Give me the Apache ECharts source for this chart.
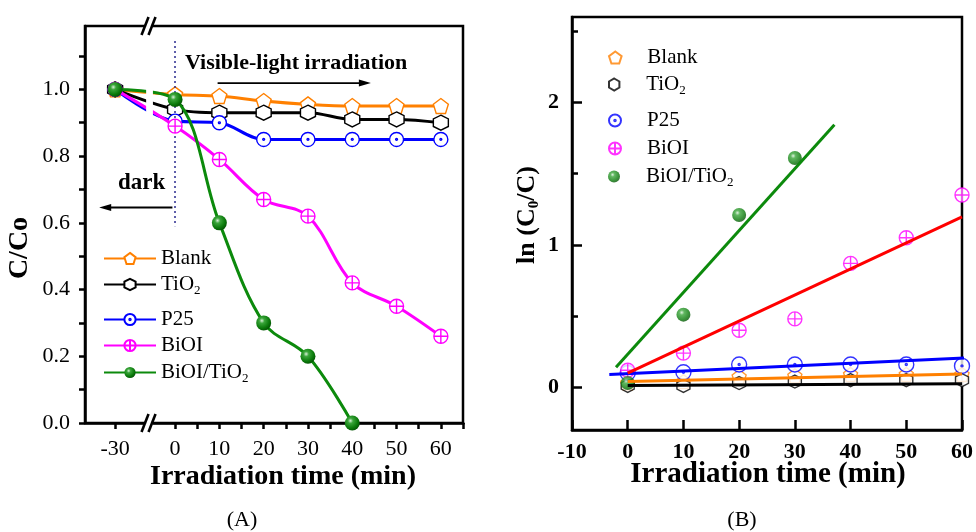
<!DOCTYPE html>
<html><head><meta charset="utf-8">
<script src="https://cdn.jsdelivr.net/npm/echarts@6/dist/echarts.min.js"></script>
<style>html,body{margin:0;padding:0;background:#fff}#c{width:976px;height:532px}</style>
</head><body><div id="c"></div>
<script>
// ---------- Panel A data ----------
const timeA = [-30, 0, 10, 20, 30, 40, 50, 60];
const blankA = [1.0, 0.985, 0.98, 0.965, 0.955, 0.95, 0.95, 0.95];
const tio2A  = [1.0, 0.94, 0.93, 0.93, 0.93, 0.91, 0.91, 0.90];
const p25A   = [1.0, 0.905, 0.90, 0.85, 0.85, 0.85, 0.85, 0.85];
const bioiA  = [1.0, 0.89, 0.79, 0.67, 0.62, 0.42, 0.35, 0.26];
const compA  = [1.0, 0.97, 0.60, 0.30, 0.20, 0.0];
const xTicksA = [-30, 0, 10, 20, 30, 40, 50, 60];
const yTicksA = [0, 0.2, 0.4, 0.6, 0.8, 1.0];
// annotation arrows [x0, x1, y] in data units
const arrowLight = [9.6, 44.2, 1.019];
const arrowDark = [-0.6, -33.6, 0.646];
// ---------- Panel B data ----------
const timeB = [0, 10, 20, 30, 40, 50, 60];
const blankB = [0.03, 0.04, 0.075, 0.08, 0.09, 0.09, 0.09];
const tio2B  = [0.01, 0.01, 0.03, 0.04, 0.05, 0.05, 0.05];
const p25B   = [0.10, 0.105, 0.16, 0.16, 0.16, 0.16, 0.15];
const bioiB  = [0.12, 0.24, 0.40, 0.48, 0.87, 1.05, 1.35];
const compB  = [0.03, 0.51, 1.21, 1.61];
const fitBlank = [[0, 0.04], [60, 0.094]];
const fitTio2  = [[0, 0.012], [60, 0.024]];
const fitP25   = [[-3.3, 0.089], [60.5, 0.205]];
const fitBioi  = [[0, 0.10], [60, 1.197]];
const fitComp  = [[-2.1, 0.14], [37.1, 1.843]];
const yTicksB = [0, 1, 2];

const names = ['Blank', 'TiO2', 'P25', 'BiOI', 'BiOI/TiO2'];
const colors = ['#ff8000', '#000000', '#0000ff', '#ff00ff', '#0c8a0c'];
const SERIF = '"Liberation Serif","Times New Roman",serif';

const pent = 'path://M0,-10 L9.51,-3.09 L5.88,8.09 L-5.88,8.09 L-9.51,-3.09 Z';
const hexa = 'path://M0,-10 L8.66,-5 L8.66,5 L0,10 L-8.66,5 L-8.66,-5 Z';
const cdot = 'path://M10,0 A10,10 0 1,1 -10,0 A10,10 0 1,1 10,0 Z M1.3,0 A1.3,1.3 0 1,1 -1.3,0 A1.3,1.3 0 1,1 1.3,0 Z';
const cplus = 'path://M10,0 A10,10 0 1,1 -10,0 A10,10 0 1,1 10,0 Z M0,-10 L0,10 M-10,0 L10,0';
const sphere = {type:'radial', x:0.38, y:0.35, r:0.7, colorStops:[
  {offset:0, color:'#d8f0d8'}, {offset:0.25, color:'#3aa53a'}, {offset:0.7, color:'#0b7a0b'}, {offset:1, color:'#045004'}]};
const symbols = [pent, hexa, cdot, cplus, 'circle'];

function zip(xs, ys){ return ys.map((y,i)=>[xs[i], y]); }
const dataA = [blankA, tio2A, p25A, bioiA, compA];
const dataB = [blankB, tio2B, p25B, bioiB, compB];
const fitsB = [fitBlank, fitTio2, fitP25, fitBioi, fitComp];
const fitColors = ['#ff8000', '#000000', '#0000ff', '#ff0000', '#0c8a0c'];

function markerStyle(i){
  if (i === 4) return {color: sphere, borderWidth: 0};
  return {color:'#fff', borderColor: colors[i], borderWidth: 1.4};
}

const series = [];
names.forEach((n,i)=>{
  const s = {
    name: n, type:'line', xAxisIndex:0, yAxisIndex:0,
    data: zip(timeA, dataA[i]), smooth: 0.35,
    symbol: symbols[i], symbolSize: i===4 ? 15 : (i<2 ? 15 : 14),
    lineStyle:{color: colors[i], width: 3},
    itemStyle: markerStyle(i), z: 2 + i
  };
  if (i === 0) {
    s.markLine = {
      silent: true, label:{show:false}, symbol:'none',
      lineStyle:{color:'#2b2b8f', type:[2,3], width:1.5},
      data: [[{coord:[0, 1.145]}, {coord:[0, 0.59]}]]
    };
  }
  series.push(s);
});
names.forEach((n,i)=>{
  series.push({
    name: 'B:' + n, type:'scatter', xAxisIndex:1, yAxisIndex:1,
    data: zip(timeB, dataB[i]),
    symbol: symbols[i], symbolSize: i===2 ? 15 : (i===1 ? 13 : 14),
    itemStyle: markerStyle(i), z: 3 + i
  });
});
names.forEach((n,i)=>{
  series.push({
    name: 'fit:' + n, type:'line', xAxisIndex:1, yAxisIndex:1,
    data: fitsB[i], symbol:'none', lineStyle:{color: fitColors[i], width: 3}, z: 10
  });
});

const richSub = {sub:{fontFamily: SERIF, fontSize: 13, padding:[12,0,0,0], color:'#000'}};
const legFmt = n => n.replace(/^B:/, '').replace('TiO2', 'TiO{sub|2}');
const legTopA = [248, 274, 309, 335, 362];
const legTopB = [47, 74, 110, 138, 166];
const legends = [];
names.forEach((n,i)=>{
  legends.push({left: 103, top: legTopA[i], padding: 0, itemWidth: 52, itemHeight: 14, selectedMode:false, z: 300,
    data:[n], formatter: legFmt,
    textStyle:{fontFamily: SERIF, fontSize: 21, color:'#000', rich: richSub}});
  legends.push({left: 608, top: legTopB[i], padding: 0, itemWidth: 48, itemHeight: 12, selectedMode:false, z: 300,
    data:['B:' + n], formatter: legFmt,
    textStyle:{fontFamily: SERIF, fontSize: 21, color:'#000', padding:[0,0,0,3], rich: richSub}});
});

const axLine = {onZero:false, lineStyle:{color:'#000', width:2.5}};
const option = {
  animation: false,
  backgroundColor: '#fff',
  legend: legends,
  grid: [
    {left: 85, top: 26, width: 378, height: 397, show: true, borderColor:'#000', borderWidth: 2.5, containLabel:false},
    {left: 572, top: 17, width: 391, height: 413, show: true, borderColor:'#000', borderWidth: 2.5, containLabel:false}
  ],
  xAxis: [
    {gridIndex:0, type:'value', min:-36.8, max:65, position:'bottom',
     breaks:[{start:-23, end:-5, gap:'1.8%'}],
     breakArea:{show:false},
     axisLine: axLine,
     axisTick:{length:6, lineStyle:{color:'#000', width:2.5},
       customValues:[-30,0,5,10,15,20,25,30,35,40,45,50,55,60,65]},
     axisLabel:{customValues: xTicksA, fontFamily: SERIF, fontSize: 22, color:'#000', margin: 15},
     splitLine:{show:false}},
    {gridIndex:1, type:'value', min:-10, max:60, interval:10, position:'bottom',
     axisLine: axLine,
     axisTick:{inside:true, length:10, lineStyle:{color:'#000', width:2.5}},
     axisLabel:{fontFamily: SERIF, fontSize: 22, fontWeight:'bold', color:'#000', margin: 11},
     splitLine:{show:false}}
  ],
  yAxis: [
    {gridIndex:0, type:'value', min:0, max:1.19, position:'left',
     axisLine: axLine,
     axisTick:{length:6, lineStyle:{color:'#000', width:2.5},
       customValues:[0,0.1,0.2,0.3,0.4,0.5,0.6,0.7,0.8,0.9,1.0,1.1]},
     axisLabel:{customValues: yTicksA, formatter: v => v.toFixed(1), fontFamily: SERIF, fontSize: 22, color:'#000', margin: 15},
     splitLine:{show:false}},
    {gridIndex:1, type:'value', min:-0.3, max:2.6, position:'left',
     axisLine: axLine,
     axisTick:{inside:true, length:10, lineStyle:{color:'#000', width:2.5}, customValues: yTicksB},
     axisLabel:{customValues: yTicksB, fontFamily: SERIF, fontSize: 22, fontWeight:'bold', color:'#000', margin: 13},
     splitLine:{show:false}},
    {gridIndex:1, type:'value', min:-0.3, max:2.6, position:'left', offset:0,
     axisLine:{show:false, onZero:false},
     axisTick:{inside:true, length:6, lineStyle:{color:'#000', width:2.5}, customValues:[0.5,1.5,2.5]},
     axisLabel:{show:false}, splitLine:{show:false}}
  ],
  series: series
};

const chart = echarts.init(document.getElementById('c'), null, {renderer:'canvas'});
chart.setOption(option);

// decorations: break band, // marks, arrows
const bx0 = chart.convertToPixel({xAxisIndex:0}, -23);
const bx1 = chart.convertToPixel({xAxisIndex:0}, -5);
const bxm = (bx0 + bx1) / 2;
const topA = 26, botA = 423;
function slashes(yc){
  return [
    {type:'line', shape:{x1:bxm-8, y1:yc+9, x2:bxm-1, y2:yc-9}, style:{stroke:'#000', lineWidth:2.6}, z:200},
    {type:'line', shape:{x1:bxm-1, y1:yc+9, x2:bxm+6, y2:yc-9}, style:{stroke:'#000', lineWidth:2.6}, z:200},
    {type:'polygon', shape:{points:[[bxm-4.5,yc-2],[bxm+2.5,yc-2],[bxm+1.5,yc+2],[bxm-5.5,yc+2]]}, style:{fill:'#fff'}, z:199}
  ];
}
function arrow(a){
  const p0 = chart.convertToPixel({xAxisIndex:0, yAxisIndex:0}, [a[0], a[2]]);
  const p1 = chart.convertToPixel({xAxisIndex:0, yAxisIndex:0}, [a[1], a[2]]);
  const dir = p1[0] > p0[0] ? 1 : -1;
  const L = 12, W = 3.5;
  return [
    {type:'line', shape:{x1:p0[0], y1:p0[1], x2:p1[0] - dir*L*0.8, y2:p1[1]}, style:{stroke:'#000', lineWidth:1.8}, z:210},
    {type:'polygon', shape:{points:[[p1[0], p1[1]], [p1[0]-dir*L, p1[1]-W], [p1[0]-dir*L, p1[1]+W]]}, style:{fill:'#000'}, z:210}
  ];
}
const graphics = [
  {type:'rect', shape:{x:bx0, y:topA+2, width:Math.max(bx1-bx0,6), height:botA-topA-4}, style:{fill:'#fff'}, z:150},
  ...slashes(topA), ...slashes(botA),
  ...arrow(arrowLight), ...arrow(arrowDark),
  {type:'text', x:185, y:63, style:{text:'Visible-light irradiation', font:'bold 22px ' + SERIF, fill:'#000', textVerticalAlign:'middle'}, z:200},
  {type:'text', x:118, y:183, style:{text:'dark', font:'bold 23px ' + SERIF, fill:'#000', textVerticalAlign:'middle'}, z:200},
  {type:'text', x:20, y:248, rotation:Math.PI/2, style:{text:'C/Co', font:'bold 28px ' + SERIF, fill:'#000', textAlign:'center', textVerticalAlign:'middle'}, z:200},
  {type:'text', x:283, y:477, style:{text:'Irradiation time (min)', font:'bold 28px ' + SERIF, fill:'#000', textAlign:'center', textVerticalAlign:'middle'}, z:200},
  {type:'text', x:242, y:520, style:{text:'(A)', font:'22px ' + SERIF, fill:'#000', textAlign:'center', textVerticalAlign:'middle'}, z:200},
  {type:'text', x:527, y:215, rotation:Math.PI/2, style:{text:'ln (C{s|0}/C)', font:'bold 26px ' + SERIF, fill:'#000', textAlign:'center', textVerticalAlign:'middle',
     rich:{s:{font:'bold 15px ' + SERIF, padding:[14,0,0,0]}}}, z:200},
  {type:'text', x:768, y:475, style:{text:'Irradiation time (min)', font:'bold 29px ' + SERIF, fill:'#000', textAlign:'center', textVerticalAlign:'middle'}, z:200},
  {type:'text', x:742, y:520, style:{text:'(B)', font:'22px ' + SERIF, fill:'#000', textAlign:'center', textVerticalAlign:'middle'}, z:200}
];
chart.setOption({graphic: graphics});
</script></body></html>
